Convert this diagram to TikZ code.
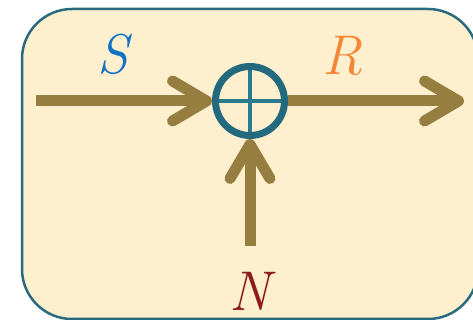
\documentclass[tikz,border=0pt]{standalone}
\usepackage{tikz}
\usetikzlibrary{arrows.meta,calc,positioning}
\definecolor{boxfill}{HTML}{FEF0CF}
\definecolor{boxline}{HTML}{2A6A7E}
\definecolor{flow}{HTML}{967D40}
\definecolor{ringcol}{HTML}{236A7E}
\definecolor{pluscol}{HTML}{2C7A8E}
\definecolor{scol}{HTML}{1072C4}
\definecolor{rcol}{HTML}{F58634}
\definecolor{ncol}{HTML}{8E1B1E}

\begin{document}
\begin{tikzpicture}[x=1pt,y=1pt,
    sumnode/.style={circle, draw=ringcol, line width=7pt, minimum size=69pt, inner sep=0pt},
    plusline/.style={draw=pluscol, line width=4pt},
    signal/.style={text=#1, font=\fontsize{56}{60}\selectfont\itshape}
    ]
    \tikzset{flowarrow/.style={draw=flow, line width=11pt,
        -{Straight Barb[length=34pt,width=40pt,round]}}}
    \useasboundingbox (0,0) rectangle (473,320);
    \draw[fill=boxfill, draw=boxline, line width=2.5pt, rounded corners=50pt]
        (22,1) rectangle (478,311);
    %
    %vertices
    %
    \node[sumnode, path picture={
        \draw[plusline] (path picture bounding box.north) -- (path picture bounding box.south);
        \draw[plusline] (path picture bounding box.west) -- (path picture bounding box.east);
        }] (sum) at (250,219) {};
    \coordinate (sin) at (36,219);
    \coordinate (rout) at (464,219);
    \coordinate (nin) at (250,74);
    \node[signal=scol] (S) at (113,266) {S};
    \node[signal=rcol] (R) at (342,264) {R};
    \node[signal=ncol] (N) at (250,29) {N};
    %
    %edges
    %
    \draw[flowarrow] (sin) -- (sum.west);
    \draw[flowarrow] (nin) -- (sum.south);
    \draw[flowarrow, line cap=butt] (sum.east) -- (rout);
\end{tikzpicture}
\end{document}
